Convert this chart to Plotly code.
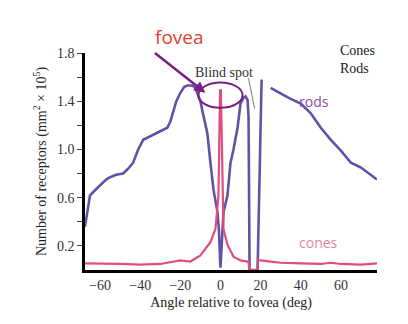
import plotly.graph_objects as go

# Rods density (x in deg, y in 10^5 / mm^2)
rods_x = [-67.5, -66, -65, -62, -60, -57, -55, -52, -48.5, -46, -43.5, -41, -38.5, -35, -31.5, -29, -26.5,
          -25, -23.5, -22, -20, -18, -16.5, -14, -12.5, -11.5, -10, -9, -7.5, -6.5, -5, -3.5, -1.5, -0.8, 0,
          0.6, 1.5, 3.5, 5, 6.5, 8.5, 10, 11.5, 12.5, 13.5,
          14.0, 14.5, 18.5, 20.5, None, 25, 28, 31.5, 35, 40, 45, 50, 55, 60, 65, 70, 74, 78]
rods_y = [0.36, 0.50, 0.62, 0.67, 0.70, 0.75, 0.77, 0.79, 0.80, 0.84, 0.89, 1.00, 1.08, 1.11, 1.14, 1.16, 1.18,
          1.23, 1.32, 1.40, 1.47, 1.52, 1.53, 1.53, 1.51, 1.47, 1.40, 1.32, 1.22, 1.13, 0.89, 0.67, 0.48, 0.34, 0.02,
          0.21, 0.48, 0.62, 0.89, 1.0, 1.18, 1.38, 1.43, 1.44, 1.41,
          1.27, 0.0, 0.0, 1.58, None, 1.51, 1.48, 1.45, 1.42, 1.38, 1.30, 1.18, 1.08, 0.99, 0.89, 0.85, 0.80, 0.75]

# Cones density
cones_x = [-67.5, -60, -50, -40, -30, -20, -15, -10, -5, -2.5, -1, -0.2, 0.2, 1.5, 3.5, 6.5, 10, 13.5,
           14.0, 14.3, 18.3, 18.6, 20, 25, 30, 40, 50, 55, 60, 70, 78]
cones_y = [0.055, 0.055, 0.05, 0.045, 0.05, 0.08, 0.07, 0.12, 0.23, 0.34, 0.62, 1.49, 1.49, 0.34, 0.21, 0.11, 0.08, 0.07,
           0.07, 0.0, 0.0, 0.08, 0.08, 0.07, 0.06, 0.055, 0.05, 0.06, 0.05, 0.045, 0.055]

y_ticks = [0.2, 0.6, 1.0, 1.4, 1.8]
y_minor_ticks = [0.4, 0.8, 1.2, 1.6]
x_ticks = [-60, -40, -20, 0, 20, 40, 60]
x_ticktext = ["\u221260", "\u221240", "\u221220", "0", "20", "40", "60"]

serif = "Liberation Serif"

fig = go.Figure()
fig.add_trace(go.Scatter(x=rods_x, y=rods_y, mode="lines",
                         line=dict(color="#6450a8", width=2.6), connectgaps=False,
                         hoverinfo="skip", showlegend=False))
fig.add_trace(go.Scatter(x=cones_x, y=cones_y, mode="lines",
                         line=dict(color="#e04c7c", width=2.2),
                         hoverinfo="skip", showlegend=False))

fig.update_layout(
    width=408, height=324,
    margin=dict(l=85, r=31, t=53, b=54),
    paper_bgcolor="white", plot_bgcolor="white",
    font=dict(family=serif, color="#222222", size=13),
    xaxis=dict(range=[-67.5, 78], tickvals=x_ticks, ticktext=x_ticktext, showgrid=False, zeroline=False,
               showline=True, linecolor="black", linewidth=2.5, ticks="",
               tickfont=dict(family=serif, size=14, color="#333333"),
               title=dict(text="Angle relative to fovea (deg)", font=dict(family=serif, size=14, color="#222222"),
                          standoff=6)),
    yaxis=dict(range=[0, 1.8], tickvals=y_ticks, tickformat=".1f", showgrid=False, zeroline=False,
               showline=True, linecolor="black", linewidth=2.5, ticks="outside", ticklen=5,
               tickcolor="#444444", tickwidth=1,
               minor=dict(tickvals=y_minor_ticks, ticks="outside", ticklen=5, tickcolor="#444444",
                          tickwidth=1, showgrid=False),
               tickfont=dict(family=serif, size=14, color="#333333"),
               title=dict(text="Number of receptors (mm<sup>2</sup> \u00d7 10<sup>5</sup>)",
                          font=dict(family=serif, size=14, color="#222222"), standoff=8)),
)

# fovea ellipse
fig.add_shape(type="circle", xref="x", yref="y", x0=-11, x1=11, y0=1.345, y1=1.555,
              line=dict(color="#7a1f82", width=2))

# annotations
fig.add_annotation(x=-7.5, y=1.47, xref="x", yref="y", ax=-52, ay=-41,
                   text="", showarrow=True, arrowhead=2, arrowsize=0.9, arrowwidth=2.5, arrowcolor="#7a1f82")
fig.add_annotation(x=(153 - 85) / 292, y=(270 - 37) / 217, xref="paper", yref="paper", text="fovea",
                   showarrow=False, font=dict(family="Open Sans", size=19, color="#e2402c"), yanchor="middle")
fig.add_annotation(x=2, y=1.635, xref="x", yref="y", text="Blind spot", showarrow=False,
                   font=dict(family=serif, size=14, color="#333333"))
fig.add_shape(type="line", xref="x", yref="y", x0=14, y0=1.59, x1=17, y1=1.34,
              line=dict(color="#777777", width=1))
fig.add_annotation(x=38, y=1.4, xref="x", yref="y", text="rods", showarrow=False,
                   font=dict(family="Open Sans", size=14, color="#8a4c9c"), xanchor="left")
fig.add_annotation(x=38, y=0.23, xref="x", yref="y", text="cones", showarrow=False,
                   font=dict(family="Open Sans", size=14, color="#e8829e"), xanchor="left")
fig.add_annotation(x=(338 - 85) / 292, y=1.0, xref="paper", yref="paper",
                   text="Cones<br>Rods", showarrow=False, align="left",
                   font=dict(family=serif, size=14, color="#222222"), xanchor="left", yanchor="top",
                   yshift=12)

fig.write_html("out.html")
